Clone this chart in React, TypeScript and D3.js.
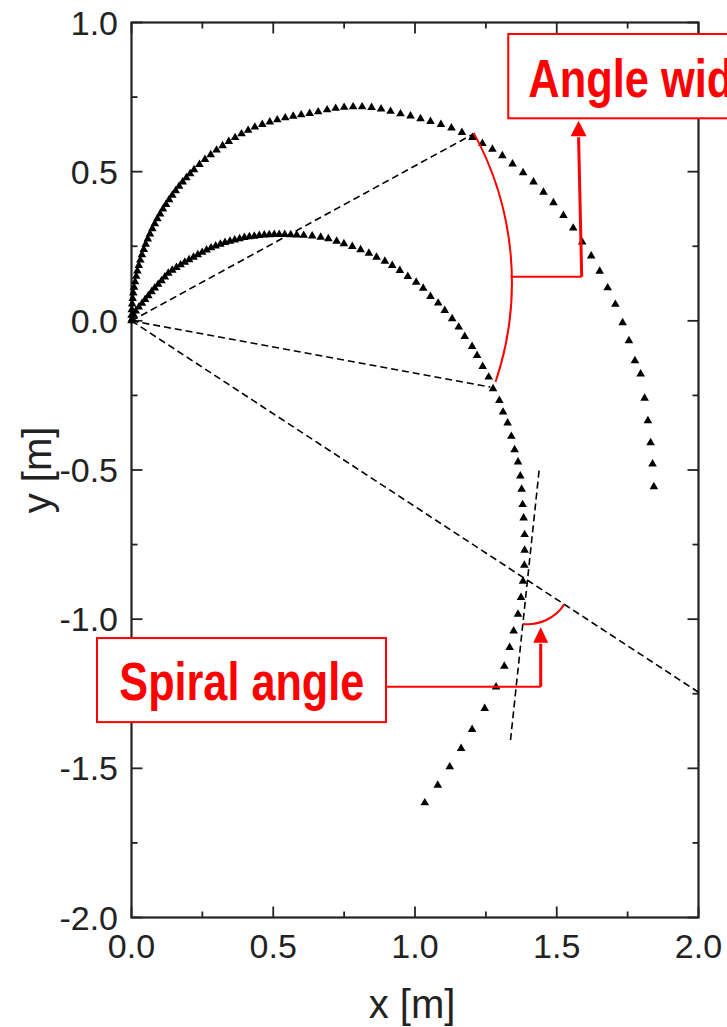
import React from "react";
import * as d3 from "d3";

const W = 727;
const H = 1027;

// Axis ticks
const xTickValues = [0, 0.5, 1.0, 1.5, 2.0];
const xTickLabels = ["0.0", "0.5", "1.0", "1.5", "2.0"];
const xMinorTicks = [0.25, 0.75, 1.25, 1.75];
const yTickValues = [1.0, 0.5, 0, -0.5, -1.0, -1.5, -2.0];
const yTickLabels = ["1.0", "0.5", "0.0", "-0.5", "-1.0", "-1.5", "-2.0"];
const yMinorTicks = [0.75, 0.25, -0.25, -0.75, -1.25, -1.75];

// Inner spiral trajectory [x, y] in metres
const innerSpiral: [number, number][] = [
  [0.002, 0.006], [0.0077, 0.0194], [0.0148, 0.0328], [0.0257, 0.0459], [0.037, 0.0586],
  [0.0482, 0.0717], [0.0595, 0.0844], [0.0708, 0.0972], [0.082, 0.1099], [0.094, 0.1223],
  [0.106, 0.1347], [0.1176, 0.1471], [0.1296, 0.1595], [0.1437, 0.1695], [0.1585, 0.1786],
  [0.1732, 0.1876], [0.188, 0.1966], [0.2032, 0.205], [0.2187, 0.2134], [0.2338, 0.2214],
  [0.2493, 0.2295], [0.2648, 0.2372], [0.2806, 0.2446], [0.2968, 0.2506], [0.3134, 0.2566],
  [0.3299, 0.2626], [0.3472, 0.267], [0.3641, 0.271], [0.3813, 0.2754], [0.3982, 0.2794],
  [0.4158, 0.2817], [0.4331, 0.2838], [0.4507, 0.2858], [0.4683, 0.2878], [0.4859, 0.2888],
  [0.5035, 0.2891], [0.5211, 0.2894], [0.5405, 0.2891], [0.5616, 0.2884], [0.5827, 0.2878],
  [0.6074, 0.2864], [0.6373, 0.2841], [0.6673, 0.2804], [0.6944, 0.275], [0.7236, 0.267],
  [0.7493, 0.2583], [0.7789, 0.2492], [0.8081, 0.2382], [0.8373, 0.2268], [0.8644, 0.2134],
  [0.8937, 0.2], [0.9197, 0.1856], [0.9465, 0.1688], [0.9746, 0.1487], [1.0042, 0.1296],
  [1.0289, 0.1095], [1.0546, 0.0817], [1.0817, 0.0593], [1.1049, 0.0348], [1.131, 0.007],
  [1.1542, -0.0211], [1.1754, -0.0523], [1.2014, -0.0858], [1.219, -0.1159], [1.2387, -0.1528],
  [1.2599, -0.1886], [1.2754, -0.2275], [1.2975, -0.2667], [1.3106, -0.3059], [1.3268, -0.3427],
  [1.3398, -0.3873], [1.3514, -0.4318], [1.3634, -0.4734], [1.3715, -0.5203], [1.3761, -0.5648],
  [1.3796, -0.6161], [1.3831, -0.661], [1.3866, -0.7166], [1.3866, -0.7692], [1.3856, -0.8194],
  [1.381, -0.873], [1.3739, -0.9276], [1.3634, -0.9836], [1.3479, -1.0395], [1.3338, -1.0951],
  [1.3151, -1.1578], [1.2859, -1.2271], [1.2458, -1.2995], [1.2014, -1.3698], [1.1627, -1.4335],
  [1.1225, -1.4951], [1.0803, -1.5564], [1.0345, -1.6158],
];

// Outer spiral trajectory [x, y] in metres
const outerSpiral: [number, number][] = [
  [0.0, 0.0], [0.0003, 0.0188], [0.001, 0.0375], [0.0023, 0.0562], [0.0041, 0.0749],
  [0.0064, 0.0935], [0.0093, 0.1121], [0.0126, 0.1306], [0.0165, 0.149], [0.0208, 0.1673],
  [0.0257, 0.1854], [0.031, 0.2035], [0.0369, 0.2214], [0.0432, 0.2392], [0.05, 0.2568],
  [0.0574, 0.2742], [0.0651, 0.2914], [0.0734, 0.3085], [0.0821, 0.3253], [0.0913, 0.3419],
  [0.101, 0.3583], [0.111, 0.3744], [0.1216, 0.3902], [0.1325, 0.4058], [0.1439, 0.4212],
  [0.1557, 0.4362], [0.1679, 0.4509], [0.1805, 0.4653], [0.1935, 0.4794], [0.2069, 0.4932],
  [0.2207, 0.5066], [0.2396, 0.524], [0.2592, 0.5408], [0.2793, 0.5568], [0.3, 0.5722],
  [0.3213, 0.5869], [0.3431, 0.6009], [0.3654, 0.6142], [0.3882, 0.6267], [0.4114, 0.6384],
  [0.4351, 0.6494], [0.4613, 0.6579], [0.4877, 0.6663], [0.5141, 0.6737], [0.5423, 0.6804],
  [0.5704, 0.6857], [0.5986, 0.6904], [0.6285, 0.6951], [0.6585, 0.7004], [0.6901, 0.7071],
  [0.7201, 0.7122], [0.75, 0.7155], [0.7817, 0.7172], [0.8134, 0.7172], [0.8468, 0.7148],
  [0.8803, 0.7098], [0.9137, 0.7021], [0.9489, 0.6937], [0.9842, 0.6864], [1.0194, 0.6773],
  [1.0546, 0.668], [1.0915, 0.6579], [1.1285, 0.6462], [1.1655, 0.6311], [1.2025, 0.6144],
  [1.2377, 0.5943], [1.2729, 0.5749], [1.3081, 0.5531], [1.344, 0.5257], [1.3813, 0.4965],
  [1.418, 0.4654], [1.4532, 0.4312], [1.4884, 0.3961], [1.5236, 0.3532], [1.5581, 0.3107],
  [1.5898, 0.2638], [1.6215, 0.2176], [1.6514, 0.1664], [1.6796, 0.1105], [1.7067, 0.0552],
  [1.7324, -0.0067], [1.7546, -0.067], [1.7757, -0.1339], [1.7958, -0.1785], [1.8099, -0.2595],
  [1.8215, -0.3348], [1.831, -0.4085], [1.838, -0.4798], [1.8426, -0.5558],
];

// Construction lines (dashed): rays from the origin and the local tangent
const rayEnds: [number, number][] = [
  [1.203, 0.625],
  [1.266, -0.222],
  [2.0, -1.245],
];
const tangentLine: [number, number][] = [
  [1.4377, -0.5022],
  [1.3356, -1.4173],
];

// Angle-width annotation
const widthArc = { start: [1.207, 0.63], end: [1.284, -0.205], radiusPx: 311 };
const widthConnector: [number, number][] = [
  [1.337, 0.148],
  [1.588, 0.148],
];
const widthArrow = { base: [1.577, 0.619], tip: [1.577, 0.671] };
const widthBox = { x0: 1.329, x1: 2.34, y0: 0.9615, y1: 0.6789 };
const widthLabel = { x: 1.3997, y: 0.7512, text: "Angle width" };

// Spiral-angle annotation
const spiralArcRadiusPx = 44;
const spiralConnector: [number, number][] = [
  [0.8977, -1.2266],
  [1.4434, -1.2266],
];
const spiralArrow = { base: [1.4434, -1.079], tip: [1.4434, -1.0275] };
const spiralBox = { x0: -0.1217, x1: 0.8977, y0: -1.0634, y1: -1.345 };
const spiralLabel = { x: -0.043, y: -1.271, text: "Spiral angle" };

const RED = "#ff0000";
const INK = "#222";

export default function App() {
  const x = d3.scaleLinear().domain([0, 2]).range([131.5, 698.5]);
  const y = d3.scaleLinear().domain([-2, 1]).range([917.5, 22.5]);
  const [x0, x1] = x.range();
  const [yb, yt] = y.range();

  const tri = d3.symbol(d3.symbolTriangle, 32)() as string;

  // Intersection of the long ray with the tangent line (pixel space)
  const P0 = [x(0), y(0)];
  const P1 = [x(rayEnds[2][0]), y(rayEnds[2][1])];
  const Q0 = [x(tangentLine[0][0]), y(tangentLine[0][1])];
  const Q1 = [x(tangentLine[1][0]), y(tangentLine[1][1])];
  const d1 = [P1[0] - P0[0], P1[1] - P0[1]];
  const d2 = [Q1[0] - Q0[0], Q1[1] - Q0[1]];
  const den = d1[0] * d2[1] - d1[1] * d2[0];
  const t = ((Q0[0] - P0[0]) * d2[1] - (Q0[1] - P0[1]) * d2[0]) / den;
  const I = [P0[0] + t * d1[0], P0[1] + t * d1[1]];
  const n1 = Math.hypot(d1[0], d1[1]);
  const n2 = Math.hypot(d2[0], d2[1]);
  const r = spiralArcRadiusPx;
  const aTan = [I[0] + (d2[0] / n2) * r, I[1] + (d2[1] / n2) * r];
  const aRay = [I[0] + (d1[0] / n1) * r, I[1] + (d1[1] / n1) * r];
  const spiralArcPath = `M${aTan[0]},${aTan[1]} A${r},${r} 0 0 0 ${aRay[0]},${aRay[1]}`;

  const wA = [x(widthArc.start[0]), y(widthArc.start[1])];
  const wB = [x(widthArc.end[0]), y(widthArc.end[1])];
  const R = widthArc.radiusPx;
  const widthArcPath = `M${wA[0]},${wA[1]} A${R},${R} 0 0 1 ${wB[0]},${wB[1]}`;

  const arrowHead = (base: number[], tip: number[], half: number) => {
    const bx = x(base[0]);
    const by = y(base[1]);
    return `M${x(tip[0])},${y(tip[1])} L${bx - half},${by} L${bx + half},${by} Z`;
  };

  const labelFont = "'Liberation Sans', Arial, Helvetica, sans-serif";
  const boldFont = "'Liberation Sans Narrow', 'Arial Narrow', 'Liberation Sans', Arial, sans-serif";

  return (
    <svg
      width={W}
      height={H}
      style={{ position: "absolute", left: 0, top: 0, display: "block" }}
    >
      <rect x={0} y={0} width={W} height={H} fill="#fff" />

      {/* tick marks on all four sides, pointing inward */}
      <g stroke={INK} strokeWidth={1.8}>
        {xTickValues.map((v) => (
          <g key={`xt${v}`}>
            <line x1={x(v)} x2={x(v)} y1={yb} y2={yb - 11} />
            <line x1={x(v)} x2={x(v)} y1={yt} y2={yt + 11} />
          </g>
        ))}
        {xMinorTicks.map((v) => (
          <g key={`xm${v}`}>
            <line x1={x(v)} x2={x(v)} y1={yb} y2={yb - 6} />
            <line x1={x(v)} x2={x(v)} y1={yt} y2={yt + 6} />
          </g>
        ))}
        {yTickValues.map((v) => (
          <g key={`yt${v}`}>
            <line x1={x0} x2={x0 + 11} y1={y(v)} y2={y(v)} />
            <line x1={x1} x2={x1 - 11} y1={y(v)} y2={y(v)} />
          </g>
        ))}
        {yMinorTicks.map((v) => (
          <g key={`ym${v}`}>
            <line x1={x0} x2={x0 + 6} y1={y(v)} y2={y(v)} />
            <line x1={x1} x2={x1 - 6} y1={y(v)} y2={y(v)} />
          </g>
        ))}
      </g>
      <rect
        x={x0}
        y={yt}
        width={x1 - x0}
        height={yb - yt}
        fill="none"
        stroke={INK}
        strokeWidth={2.2}
      />

      {/* tick labels */}
      <g fontFamily={labelFont} fontSize={34} fill={INK}>
        {xTickValues.map((v, i) => (
          <text key={`xl${v}`} x={x(v)} y={958} textAnchor="middle">
            {xTickLabels[i]}
          </text>
        ))}
        {yTickValues.map((v, i) => (
          <text key={`yl${v}`} x={118} y={y(v) + 12} textAnchor="end">
            {yTickLabels[i]}
          </text>
        ))}
      </g>

      {/* axis titles */}
      <text
        x={(x0 + x1) / 2 - 3}
        y={1018}
        textAnchor="middle"
        fontFamily={labelFont}
        fontSize={40}
        fill={INK}
      >
        x [m]
      </text>
      <text
        transform={`translate(51, ${y(-0.5)}) rotate(-90)`}
        textAnchor="middle"
        fontFamily={labelFont}
        fontSize={40}
        fill={INK}
      >
        y [m]
      </text>

      {/* dashed construction lines */}
      <g stroke="#000" strokeWidth={1.6} strokeDasharray="7 4" fill="none">
        {rayEnds.map((p, i) => (
          <line key={`ray${i}`} x1={x(0)} y1={y(0)} x2={x(p[0])} y2={y(p[1])} />
        ))}
        <line
          x1={x(tangentLine[0][0])}
          y1={y(tangentLine[0][1])}
          x2={x(tangentLine[1][0])}
          y2={y(tangentLine[1][1])}
        />
      </g>

      {/* trajectories */}
      <g fill="#000">
        {outerSpiral.map((p, i) => (
          <path key={`o${i}`} d={tri} transform={`translate(${x(p[0])},${y(p[1])})`} />
        ))}
        {innerSpiral.map((p, i) => (
          <path key={`n${i}`} d={tri} transform={`translate(${x(p[0])},${y(p[1])})`} />
        ))}
      </g>

      {/* angle-width annotation */}
      <g stroke={RED} fill="none">
        <path d={widthArcPath} strokeWidth={2} />
        <line
          x1={x(widthConnector[0][0])}
          y1={y(widthConnector[0][1])}
          x2={x(widthConnector[1][0])}
          y2={y(widthConnector[1][1])}
          strokeWidth={2}
        />
        <line
          x1={x(widthConnector[1][0])}
          y1={y(widthConnector[1][1])}
          x2={x(widthArrow.base[0])}
          y2={y(widthArrow.base[1]) + 1}
          strokeWidth={3}
        />
      </g>
      <path d={arrowHead(widthArrow.base, widthArrow.tip, 8)} fill={RED} />

      {/* spiral-angle annotation */}
      <g stroke={RED} fill="none">
        <path d={spiralArcPath} strokeWidth={2} />
        <line
          x1={x(spiralConnector[0][0])}
          y1={y(spiralConnector[0][1])}
          x2={x(spiralConnector[1][0])}
          y2={y(spiralConnector[1][1])}
          strokeWidth={2}
        />
        <line
          x1={x(spiralConnector[1][0])}
          y1={y(spiralConnector[1][1])}
          x2={x(spiralArrow.base[0])}
          y2={y(spiralArrow.base[1]) + 1}
          strokeWidth={3}
        />
      </g>
      <path d={arrowHead(spiralArrow.base, spiralArrow.tip, 7.5)} fill={RED} />

      {/* label boxes */}
      {[
        { box: widthBox, label: widthLabel, len: 246 },
        { box: spiralBox, label: spiralLabel, len: 245 },
      ].map(({ box, label, len }) => (
        <g key={label.text}>
          <rect
            x={x(box.x0)}
            y={y(box.y0)}
            width={x(box.x1) - x(box.x0)}
            height={y(box.y1) - y(box.y0)}
            fill="#fff"
            stroke={RED}
            strokeWidth={2}
          />
          <text
            x={x(label.x)}
            y={y(label.y)}
            fontFamily={boldFont}
            fontWeight="bold"
            fontSize={53}
            fill={RED}
            textLength={len}
            lengthAdjust="spacingAndGlyphs"
          >
            {label.text}
          </text>
        </g>
      ))}
    </svg>
  );
}
